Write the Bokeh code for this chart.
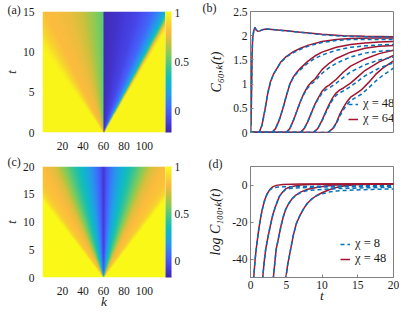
import numpy as np
from bokeh.plotting import figure
from bokeh.models import (LinearColorMapper, ColorBar, FixedTicker, NumeralTickFormatter,
                          Legend, LegendItem, Range1d, Title)
from bokeh.layouts import gridplot
from bokeh.embed import file_html
from bokeh.resources import INLINE

FONT = "Liberation Serif"
RED = "#A2142F"
BLUE = "#0072BD"
GRAY = "#808080"

# ---------------- parula-like colour map anchors ----------------
PARULA_POS = [0.0, 0.07, 0.14, 0.22, 0.30, 0.38, 0.45, 0.52, 0.64, 0.74, 0.83, 0.90, 1.0]
PARULA_HEX = ["#3E26A8", "#443AD9", "#4852F4", "#3B73FC", "#2797EB", "#14B0D6", "#12BEB9",
              "#33C497", "#81CC59", "#C7C23D", "#FCBB3E", "#F7D42E", "#F9FB15"]

# ---------------- panel (a): light-cone map ----------------
K_LO, K_HI, K_SPLIT = 0.5, 120.5, 60.25
A_TMAX = 15
A_SPEED = 4.44
A_LEFT_R = [0.0, 0.15, 0.33, 0.5, 0.7, 0.85, 1.0, 1.2, 1.3]
A_LEFT_V = [0.5, 0.6, 0.71, 0.77, 0.8, 0.81, 0.87, 0.97, 1.0]
A_RIGHT_R = [0.0, 0.2, 0.5, 0.72, 0.84, 0.9, 0.95, 0.99, 1.03, 1.07]
A_RIGHT_V = [-0.19, -0.16, -0.09, 0.02, 0.15, 0.25, 0.45, 0.75, 0.92, 1.0]
A_CLIM = (-0.22, 1.02)

# ---------------- panel (c) ----------------
C_TMAX = 20
C_SPEED = 3.93
C_R = [0.0, 0.03, 0.1, 0.2, 0.3, 0.4, 0.5, 0.6, 0.75, 0.9, 1.0, 1.08]
C_V = [-0.12, -0.02, 0.1, 0.23, 0.35, 0.47, 0.6, 0.74, 0.81, 0.84, 0.9, 1.0]
C_CLIM = (-0.18, 1.01)

CB_TICKS = [0, 0.5, 1]
K_TICKS = [20, 40, 60, 80, 100]
A_T_TICKS = [0, 5, 10, 15]
C_T_TICKS = [0, 5, 10, 15, 20]

# ---------------- panel (b): C_{60,k}(t) ----------------
B_T1 = [0, 0.08, 0.15, 0.22, 0.3, 0.45, 0.6, 0.8, 1.0, 1.3, 1.8, 2.2, 3, 5, 7, 10, 13, 16, 20]
B_R1 = [0, 0.2, 0.9, 1.6, 1.95, 2.1, 2.17, 2.12, 2.09, 2.1, 2.13, 2.14, 2.13, 2.10, 2.07, 2.03, 2.0, 1.99, 1.98]
B_B1 = [0, 0.2, 0.9, 1.6, 1.95, 2.1, 2.17, 2.12, 2.09, 2.1, 2.13, 2.14, 2.13, 2.10, 2.07, 2.02, 1.99, 1.98, 1.97]

B_T2 = [0, 1.2, 1.6, 2.0, 2.4, 2.8, 3.2, 3.6, 4.2, 5, 6, 7, 8, 10, 12, 14, 17, 20]
B_R2 = [0, 0, 0.15, 0.45, 0.8, 1.05, 1.2, 1.3, 1.45, 1.57, 1.67, 1.74, 1.8, 1.88, 1.92, 1.94, 1.95, 1.95]
B_B2 = [0, 0, 0.15, 0.45, 0.8, 1.05, 1.2, 1.3, 1.44, 1.56, 1.65, 1.72, 1.78, 1.86, 1.9, 1.92, 1.92, 1.92]

B_T3 = [0, 3.0, 3.5, 4.0, 4.5, 5.0, 5.5, 6.0, 6.5, 7.0, 8, 9, 10, 12, 14, 16, 18, 20]
B_R3 = [0, 0, 0.08, 0.25, 0.48, 0.75, 1.0, 1.15, 1.25, 1.33, 1.47, 1.58, 1.66, 1.76, 1.82, 1.85, 1.87, 1.88]
B_B3 = [0, 0, 0.08, 0.25, 0.48, 0.75, 1.0, 1.14, 1.23, 1.3, 1.43, 1.53, 1.6, 1.7, 1.76, 1.79, 1.81, 1.82]

B_T4 = [0, 5.0, 5.5, 6.0, 6.5, 7.0, 7.5, 8.0, 8.5, 9.0, 10, 11, 12, 14, 16, 18, 20]
B_R4 = [0, 0, 0.08, 0.25, 0.45, 0.65, 0.82, 0.95, 1.04, 1.1, 1.3, 1.43, 1.53, 1.66, 1.74, 1.78, 1.80]
B_B4 = [0, 0, 0.08, 0.25, 0.45, 0.65, 0.8, 0.92, 1.0, 1.06, 1.22, 1.34, 1.43, 1.56, 1.64, 1.68, 1.70]

B_T5 = [0, 7.0, 7.5, 8.0, 8.5, 9.0, 9.5, 10, 10.5, 11, 12, 13, 14, 16, 18, 20]
B_R5 = [0, 0, 0.08, 0.22, 0.4, 0.58, 0.72, 0.85, 0.93, 0.98, 1.1, 1.25, 1.37, 1.52, 1.63, 1.70]
B_B5 = [0, 0, 0.08, 0.22, 0.4, 0.57, 0.7, 0.81, 0.88, 0.92, 1.02, 1.14, 1.25, 1.4, 1.5, 1.56]

B_T6 = [0, 8.8, 9.4, 10, 10.5, 11, 11.5, 12, 12.5, 13, 14, 15, 16, 18, 20]
B_R6 = [0, 0, 0.08, 0.25, 0.42, 0.58, 0.72, 0.82, 0.88, 0.92, 1.02, 1.15, 1.28, 1.46, 1.59]
B_B6 = [0, 0, 0.08, 0.24, 0.4, 0.55, 0.68, 0.77, 0.82, 0.86, 0.95, 1.06, 1.17, 1.33, 1.44]

B_T7 = [0, 10.8, 11.5, 12, 12.5, 13, 13.5, 14, 14.7, 15.5, 16.5, 17.5, 18.5, 20]
B_R7 = [0, 0, 0.08, 0.2, 0.38, 0.52, 0.64, 0.73, 0.8, 0.88, 1.03, 1.2, 1.33, 1.48]
B_B7 = [0, 0, 0.07, 0.18, 0.34, 0.47, 0.58, 0.66, 0.72, 0.79, 0.92, 1.06, 1.18, 1.33]

B_Y_TICKS = [0, 0.5, 1, 1.5, 2, 2.5]

# ---------------- panel (d): log C_{100,k}(t) ----------------
D_T1 = [0.35, 0.45, 0.65, 0.85, 1.05, 1.25, 1.5, 1.75, 2.0, 2.3, 2.7, 3.1, 3.6, 4.5, 7, 12, 20]
D_R1 = [-55, -50, -40, -33, -27, -21.5, -16, -11.5, -8, -5, -2.5, -1.0, -0.2, 0.3, 0.5, 0.6, 0.6]
D_B1 = [-55, -50, -40, -33, -27, -21.5, -16, -11.5, -8, -5, -2.6, -1.6, -1.2, -1.0, -0.8, -0.6, -0.3]

D_T2 = [1.6, 1.71, 1.9, 2.13, 2.45, 2.78, 3.1, 3.42, 3.75, 4.06, 4.5, 4.92, 5.5, 6.2, 7, 8.3, 12, 20]
D_R2 = [-55, -50, -42, -34.6, -28, -21.9, -16.5, -12.4, -9, -6, -3.8, -2.1, -1.1, -0.5, 0, 0.3, 0.5, 0.6]
D_B2 = [-55, -50, -42, -34.6, -28, -21.9, -16.5, -12.4, -9, -6, -3.9, -2.4, -1.9, -1.7, -1.5, -1.3, -1.0, -0.6]

D_T3 = [3.1, 3.2, 3.4, 3.6, 3.95, 4.28, 4.6, 4.92, 5.35, 5.78, 6.4, 7.07, 8, 9.2, 10.5, 12, 15, 20]
D_R3 = [-55, -50, -42, -34.6, -28, -21.9, -17, -13.2, -10, -7.6, -5.3, -3.7, -2.3, -1.3, -0.5, 0, 0.4, 0.6]
D_B3 = [-55, -50, -42, -34.6, -28, -21.9, -17, -13.2, -10, -7.6, -5.4, -3.9, -3.0, -2.6, -2.3, -2.0, -1.6, -1.2]

D_T4 = [4.85, 4.95, 5.2, 5.45, 5.75, 6.0, 6.4, 6.85, 7.4, 7.92, 8.5, 9.2, 10, 11, 12, 13, 14.5, 17, 20]
D_R4 = [-55, -50, -43, -38, -32, -27, -21, -17, -13, -10, -7.8, -5.8, -4.2, -2.6, -1.3, -0.5, 0.1, 0.4, 0.6]
D_B4 = [-55, -50, -43, -38, -32, -27, -21, -17, -13, -10, -7.8, -5.9, -4.8, -3.8, -3.3, -3.0, -2.7, -2.4, -2.1]

D_Y_TICKS = [-40, -20, 0]
D_X_TICKS = [0, 5, 10, 15, 20]


def parula(n=256):
    rgb = np.array([[int(h[i:i + 2], 16) for i in (1, 3, 5)] for h in PARULA_HEX], float)
    xs = np.linspace(0, 1, n)
    cols = []
    for xv in xs:
        c = [int(round(np.interp(xv, PARULA_POS, rgb[:, j]))) for j in range(3)]
        cols.append("#%02x%02x%02x" % tuple(c))
    return cols


PAL = parula()


def grid(t_max, nt=300, nk=480):
    k = K_LO + (np.arange(nk) + 0.5) * (K_HI - K_LO) / nk
    t = (np.arange(nt) + 0.5) * t_max / nt
    return np.meshgrid(k, t)


def image_a():
    KK, TT = grid(A_TMAX)
    left = np.interp((K_SPLIT - KK) / (A_SPEED * TT), A_LEFT_R, A_LEFT_V)
    right = np.interp((KK - K_SPLIT) / (A_SPEED * TT), A_RIGHT_R, A_RIGHT_V)
    return np.where(KK < K_SPLIT, left, right)


def image_c():
    KK, TT = grid(C_TMAX)
    return np.interp(np.abs(KK - 60.0) / (C_SPEED * TT), C_R, C_V)


def style_axis(ax, size="11.5px"):
    ax.major_label_text_font = FONT
    ax.major_label_text_font_size = size
    ax.major_label_text_color = "#1a1a1a"
    ax.axis_label_text_font = FONT
    ax.axis_label_text_font_size = "14px"
    ax.axis_label_text_font_style = "italic"
    ax.axis_label_text_color = "#1a1a1a"
    ax.minor_tick_line_color = None
    ax.major_label_standoff = 3


def panel_title(p, text, dx, standoff):
    p.title = Title(text=text, align="left", offset=dx, standoff=standoff,
                    text_font=FONT, text_font_size="12px", text_font_style="normal",
                    text_color="#1a1a1a")


def heat_fig(img, tmax, clim, tticks, width, height, top, bottom, xlabel):
    p = figure(width=width, height=height, x_range=Range1d(K_LO, K_HI), y_range=Range1d(0, tmax),
               output_backend="svg", toolbar_location=None,
               min_border_left=32, min_border_right=33, min_border_top=top, min_border_bottom=bottom)
    mapper = LinearColorMapper(palette=PAL, low=clim[0], high=clim[1])
    p.image(image=[img], x=K_LO, y=0, dw=K_HI - K_LO, dh=tmax, color_mapper=mapper)
    p.grid.visible = False
    p.outline_line_color = None
    for ax in p.axis:
        style_axis(ax)
        ax.axis_line_color = None
        ax.major_tick_line_color = None
    p.xaxis.ticker = FixedTicker(ticks=K_TICKS)
    p.yaxis.ticker = FixedTicker(ticks=tticks)
    p.yaxis.axis_label = "t"
    p.yaxis.axis_label_standoff = 1
    p.yaxis.major_label_standoff = 2
    p.yaxis.axis_label_text_font_size = "13.5px"
    if xlabel:
        p.xaxis.axis_label = xlabel
        p.xaxis.axis_label_standoff = -4
        p.xaxis.axis_label_text_font_size = "13.5px"
    cb = ColorBar(color_mapper=mapper, ticker=FixedTicker(ticks=CB_TICKS),
                  formatter=NumeralTickFormatter(format="0.[0]"), width=6,
                  padding=0, margin=6, label_standoff=3,
                  major_label_text_font=FONT, major_label_text_font_size="11.5px",
                  major_label_text_color="#1a1a1a",
                  major_tick_line_color=None, bar_line_color=None, border_line_color=None,
                  background_fill_alpha=0)
    p.add_layout(cb, "right")
    return p


def line_fig(width, height, left, right, top, bottom, yr, xticks, yticks, ylabel, xlabel,
             yfmt=None):
    p = figure(width=width, height=height, x_range=Range1d(0, 20), y_range=Range1d(*yr),
               output_backend="svg", toolbar_location=None,
               min_border_left=left, min_border_right=right, min_border_top=top,
               min_border_bottom=bottom)
    p.grid.visible = False
    p.outline_line_color = GRAY
    p.yaxis.ticker = FixedTicker(ticks=yticks)
    if xticks is not None:
        p.xaxis.ticker = FixedTicker(ticks=xticks)
    if yfmt is not None:
        p.yaxis.formatter = yfmt
    for ax in p.axis:
        style_axis(ax)
        ax.axis_line_color = GRAY
        ax.major_tick_line_color = GRAY
        ax.major_tick_in = 3
        ax.major_tick_out = 0
    p.yaxis.axis_label = ylabel
    p.yaxis.axis_label_standoff = 6
    if xlabel:
        p.xaxis.axis_label = xlabel
        p.xaxis.axis_label_standoff = -4
        p.xaxis.axis_label_text_font_size = "13.5px"
    else:
        p.xaxis.visible = False
    return p


def add_curves(p, curves):
    reds, blues = [], []
    for t, r, b in curves:
        reds.append(p.line(t, r, color=RED, line_width=1.5))
    for t, r, b in curves:
        blues.append(p.line(t, b, color=BLUE, line_width=1.5, line_dash="4 3"))
    return reds, blues


def add_legend(p, blue_r, red_r, lab_b, lab_r, loc):
    leg = Legend(items=[LegendItem(label=lab_b, renderers=[blue_r]),
                        LegendItem(label=lab_r, renderers=[red_r])],
                 location=loc, padding=0, margin=0, spacing=0, label_height=15,
                 glyph_width=10, glyph_height=12, label_standoff=5,
                 label_text_font=FONT, label_text_font_size="12.5px", label_text_color="#1a1a1a",
                 background_fill_alpha=0, border_line_alpha=0)
    p.add_layout(leg)


# ---------------- build panels ----------------
pa = heat_fig(image_a(), A_TMAX, A_CLIM, A_T_TICKS, 198, 154, 7, 22, None)
panel_title(pa, "(a)", -35, -10)

pb = line_fig(201, 154, 52, 4, 11, 17, (0, 2.5), None, B_Y_TICKS, "C\u2086\u2080,\u2096(t)", None,
              NumeralTickFormatter(format="0.[0]"))
rb, bb = add_curves(pb, [(B_T1, B_R1, B_B1), (B_T2, B_R2, B_B2), (B_T3, B_R3, B_B3),
                         (B_T4, B_R4, B_B4), (B_T5, B_R5, B_B5), (B_T6, B_R6, B_B6),
                         (B_T7, B_R7, B_B7)])
add_legend(pb, bb[0], rb[0], "\u03c7 = 48", "\u03c7 = 64", (98, 6))
panel_title(pb, "(b)", -48, -7)

pc = heat_fig(image_c(), C_TMAX, C_CLIM, C_T_TICKS, 198, 157, 11, 28, "k")
panel_title(pc, "(c)", -35, -4)

pd = line_fig(201, 157, 45, 6, 7, 28, (-50, 10), D_X_TICKS, D_Y_TICKS,
              "log C\u2081\u2080\u2080,\u2096(t)", "t")
pd.yaxis[0].major_label_overrides = {-40: "-40", -20: "-20", 0: "0"}
rd, bd = add_curves(pd, [(D_T1, D_R1, D_B1), (D_T2, D_R2, D_B2), (D_T3, D_R3, D_B3),
                         (D_T4, D_R4, D_B4)])
add_legend(pd, bd[0], rd[0], "\u03c7 = 8", "\u03c7 = 48", (90, 11))
panel_title(pd, "(d)", -42, -8)

layout = gridplot([[pa, pb], [pc, pd]], toolbar_location=None)
open("out.html", "w").write(file_html(layout, INLINE))
